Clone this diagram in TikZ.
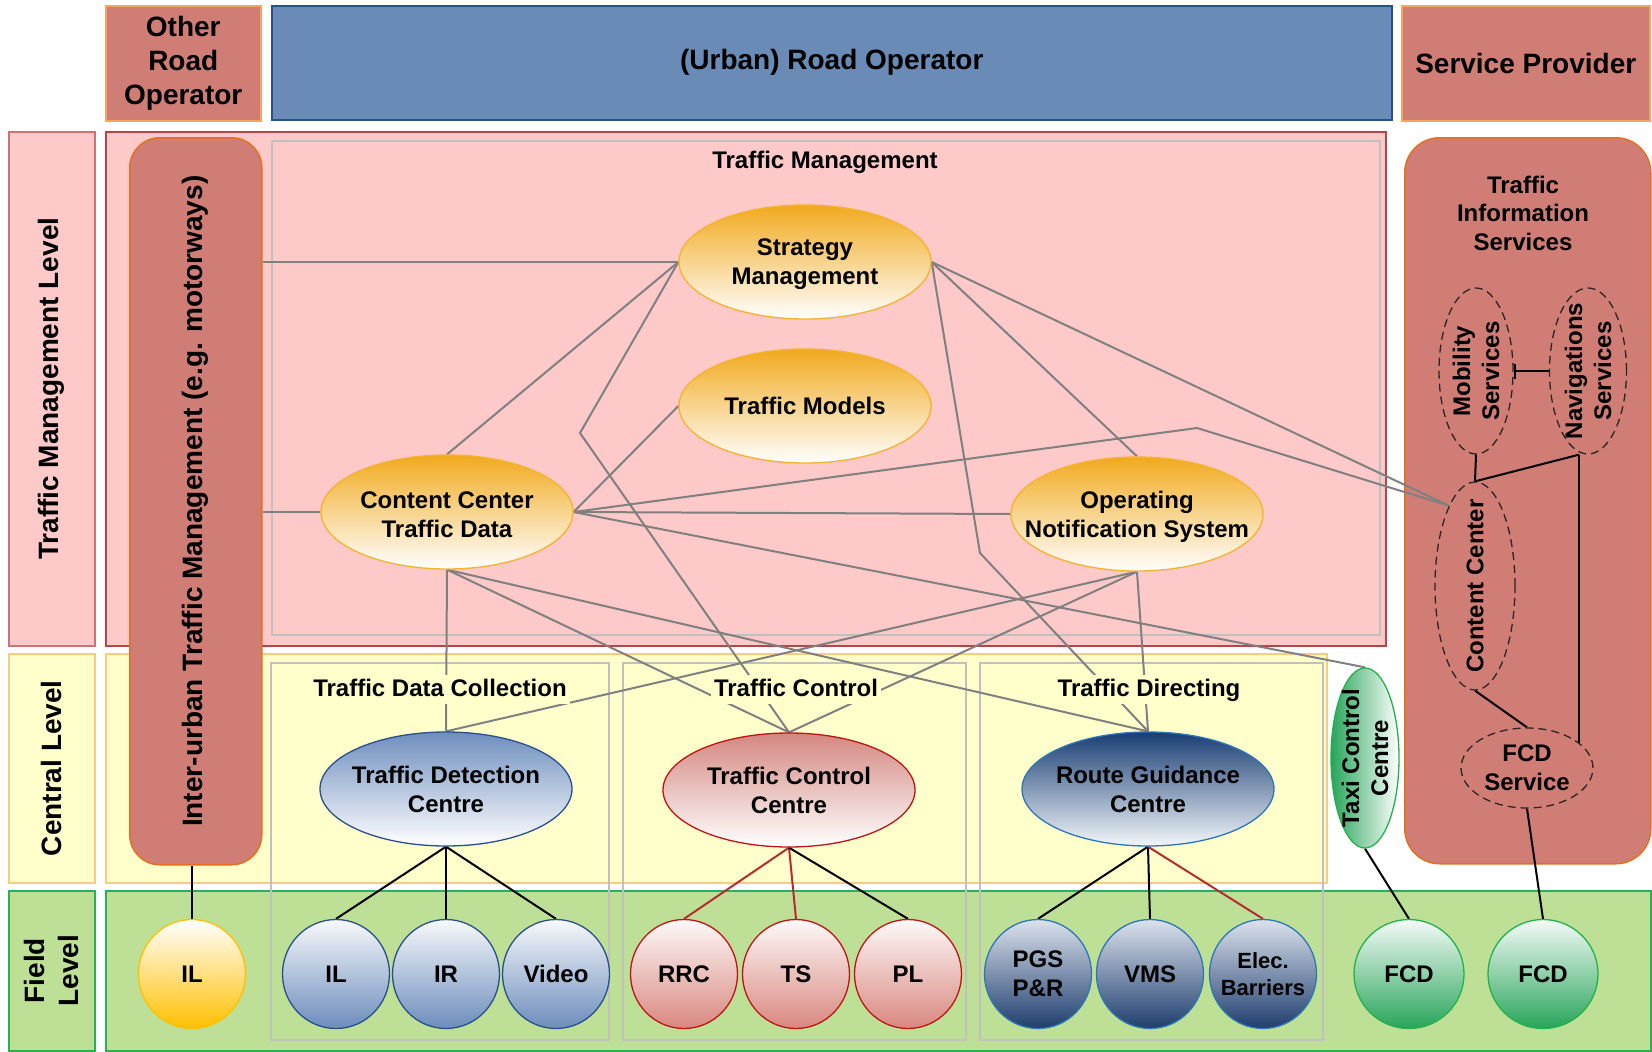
\documentclass[tikz,border=0pt]{standalone}
\usepackage{fontspec}
\setmainfont{Liberation Sans}
\usetikzlibrary{shapes.geometric,arrows.meta,calc}
\definecolor{salmon}{RGB}{208,126,117}
\definecolor{salmonB}{RGB}{228,112,30}
\definecolor{opB}{RGB}{245,165,95}
\definecolor{blueF}{RGB}{107,139,183}
\definecolor{blueB}{RGB}{40,80,140}
\definecolor{pinkF}{RGB}{253,201,201}
\definecolor{pinkB}{RGB}{180,70,70}
\definecolor{pinkB2}{RGB}{205,115,115}
\definecolor{yelF}{RGB}{255,255,204}
\definecolor{yelB}{RGB}{250,205,125}
\definecolor{grnF}{RGB}{190,224,150}
\definecolor{grnB}{RGB}{40,178,85}
\definecolor{colB}{RGB}{192,192,192}
\definecolor{lineG}{RGB}{128,128,128}
\definecolor{lineR}{RGB}{180,45,45}
\definecolor{orT}{RGB}{241,170,30}
\definecolor{orB}{RGB}{244,178,45}
\definecolor{tdcT}{RGB}{110,142,190}
\definecolor{tdcB}{RGB}{40,80,140}
\definecolor{tccT}{RGB}{212,135,128}
\definecolor{tccB}{RGB}{192,20,20}
\definecolor{rgcT}{RGB}{25,62,115}
\definecolor{rgcB}{RGB}{46,117,182}
\definecolor{ilB}{RGB}{255,192,0}
\definecolor{bcB}{RGB}{108,140,188}
\definecolor{rcB}{RGB}{217,135,127}
\definecolor{dcB}{RGB}{30,62,110}
\definecolor{dcT}{RGB}{220,226,236}
\definecolor{fcdG}{RGB}{40,165,90}
\definecolor{fcdB}{RGB}{34,177,76}
\definecolor{dashC}{RGB}{45,35,35}
\pgfdeclarelayer{bg}
\pgfdeclarelayer{lines}
\pgfsetlayers{bg,lines,main}
\tikzset{
 bigtxt/.style={font=\fontsize{28}{34}\selectfont\bfseries, align=center, inner sep=0pt},
 txt/.style={font=\fontsize{24}{29}\selectfont\bfseries, align=center, inner sep=0pt},
 otxt/.style={txt, yshift=-2.5pt},
 box/.style={rectangle, anchor=north west, inner sep=0pt, line width=1.5pt},
 ell/.style={ellipse, inner sep=0pt, line width=1.3pt},
 oell/.style={ell, minimum width=252, minimum height=114, draw=orB, top color=orT, bottom color=white},
 cent/.style={ell, minimum width=252, minimum height=114},
 fcirc/.style={ell, minimum width=107, minimum height=109},
 dell/.style={ell, draw=dashC, dash pattern=on 8pt off 5pt},
 gline/.style={draw=lineG, line width=2pt},
 bline/.style={draw=black, line width=2pt},
 rline/.style={draw=lineR, line width=2pt},
 clab/.style={txt, fill=yelF, inner sep=3pt, text height=18pt, text depth=5pt, anchor=base},
}
\begin{document}
\begin{tikzpicture}[x=1pt,y=-1pt]
\useasboundingbox (0,0) rectangle (1652,1052);
\begin{pgfonlayer}{bg}
\fill[white] (0,0) rectangle (1652,1052);
% level labels
\node[box,fill=pinkF,draw=pinkB2,minimum width=86,minimum height=514] (tml) at (8,131) {};
\node[box,fill=yelF,draw=yelB,minimum width=86,minimum height=229] (cl) at (8,653) {};
\node[box,fill=grnF,draw=grnB,minimum width=86,minimum height=160] (fl) at (8,890) {};
% operators
\node[box,fill=salmon,draw=opB,minimum width=155,minimum height=115] (oro) at (105,5) {};
\node[box,fill=blueF,draw=blueB,minimum width=1120,minimum height=114] (uro) at (271,5) {};
\node[box,fill=salmon,draw=opB,minimum width=248,minimum height=115] (sp) at (1401,5) {};
% level areas
\node[box,fill=pinkF,draw=pinkB,minimum width=1280,minimum height=514] (pinkbox) at (105,131) {};
\node[box,draw=colB,minimum width=1108,minimum height=494] (tmbox) at (271,140) {};
\node[box,fill=yelF,draw=yelB,minimum width=1221,minimum height=229] (yelbox) at (105,653) {};
\node[box,fill=grnF,draw=grnB,minimum width=1545,minimum height=160] (grnbox) at (105,890) {};
\node[box,draw=colB,minimum width=338,minimum height=377] (tdcbox) at (270,662) {};
\node[box,draw=colB,minimum width=343,minimum height=377] (tcbox) at (622,662) {};
\node[box,draw=colB,minimum width=343,minimum height=377] (tdbox) at (979,662) {};
\node[box,fill=salmon,draw=salmonB,rounded corners=30pt,minimum width=132,minimum height=727] (ibox) at (129,137) {};
\node[box,fill=salmon,draw=salmonB,rounded corners=35pt,minimum width=246,minimum height=726] (tis) at (1404,137) {};
% texts
\node[bigtxt,rotate=90] (tmlt) at (tml.center) {Traffic Management Level};
\node[bigtxt,rotate=90] (clt) at (cl.center) {Central Level};
\node[bigtxt,rotate=90] (flt) at (fl.center) {Field\\Level};
\node[bigtxt] (orot) at (oro.center) {Other\\Road\\Operator};
\node[bigtxt] (urot) at (uro.center) {(Urban) Road Operator};
\node[bigtxt] (spt) at (sp.center) {Service Provider};
\node[txt] (tmt) at (825,162) {Traffic Management};
\node[bigtxt,rotate=90] (iboxt) at (ibox.center) {Inter-urban Traffic Management (e.g. motorways)};
\node[txt,font=\fontsize{24}{28.5}\selectfont\bfseries] (tist) at (1523,213) {Traffic\\Information\\Services};
\end{pgfonlayer}

% management ellipses
\node[oell] (sm) at (805,262) {};
\node[otxt] (smt) at (sm) {Strategy\\Management};
\node[oell] (tmod) at (805,406) {};
\node[txt] (tmodt) at (tmod) {Traffic Models};
\node[oell] (cc) at (447,512) {};
\node[otxt] (cct) at (cc) {Content Center\\Traffic Data};
\node[oell] (ons) at (1137,514) {};
\node[otxt] (onst) at (ons) {Operating\\Notification System};

% central ellipses
\node[cent,draw=tdcB,top color=tdcT,bottom color=white] (tdc) at (446,789) {};
\node[txt] (tdct) at (tdc) {Traffic Detection\\Centre};
\node[cent,draw=tccB,top color=tccT,bottom color=white] (tcc) at (789,790) {};
\node[txt] (tcct) at (tcc) {Traffic Control\\Centre};
\node[cent,draw=rgcB,top color=rgcT,bottom color=white!94!rgcB] (rgc) at (1148,789) {};
\node[txt] (rgct) at (rgc) {Route Guidance\\Centre};

% column labels
\node[clab] (tdcl) at (440,696) {Traffic Data Collection};
\node[clab] (tcl) at (796,696) {Traffic Control};
\node[clab] (tdl) at (1149,696) {Traffic Directing};

% field circles
\node[fcirc,draw=ilB,top color=white,bottom color=ilB] (il0) at (192,974) {};
\node[txt] (il0t) at (il0) {IL};
\node[fcirc,draw=tdcB,top color=white!95!bcB,bottom color=bcB] (il) at (336,974) {};
\node[txt] (ilt) at (il) {IL};
\node[fcirc,draw=tdcB,top color=white!95!bcB,bottom color=bcB] (ir) at (446,974) {};
\node[txt] (irt) at (ir) {IR};
\node[fcirc,draw=tdcB,top color=white!95!bcB,bottom color=bcB] (vid) at (556,974) {};
\node[txt] (vidt) at (vid) {Video};
\node[fcirc,draw=tccB,top color=white!95!rcB,bottom color=rcB] (rrc) at (684,974) {};
\node[txt] (rrct) at (rrc) {RRC};
\node[fcirc,draw=tccB,top color=white!95!rcB,bottom color=rcB] (ts) at (796,974) {};
\node[txt] (tst) at (ts) {TS};
\node[fcirc,draw=tccB,top color=white!95!rcB,bottom color=rcB] (pl) at (908,974) {};
\node[txt] (plt) at (pl) {PL};
\node[fcirc,draw=rgcB,top color=dcT,bottom color=dcB] (pgs) at (1038,974) {};
\node[txt] (pgst) at (pgs) {PGS\\P\&R};
\node[fcirc,draw=rgcB,top color=dcT,bottom color=dcB] (vms) at (1150,974) {};
\node[txt] (vmst) at (vms) {VMS};
\node[fcirc,draw=rgcB,top color=dcT,bottom color=dcB] (eb) at (1263,974) {};
\node[txt,font=\fontsize{22}{27}\selectfont\bfseries] (ebt) at (eb) {Elec.\\Barriers};
\node[ell,minimum width=110,minimum height=109,draw=fcdB,top color=white!95!fcdG,bottom color=fcdG] (fcd1) at (1409,974) {};
\node[txt] (fcd1t) at (fcd1) {FCD};
\node[ell,minimum width=110,minimum height=109,draw=fcdB,top color=white!95!fcdG,bottom color=fcdG] (fcd2) at (1543,974) {};
\node[txt] (fcd2t) at (fcd2) {FCD};

% taxi
\node[ell,minimum width=68,minimum height=180,draw=fcdB,left color=fcdG,right color=white] (taxi) at (1365,758) {};
\node[txt,rotate=90] (taxit) at (taxi) {Taxi Control\\Centre};

% service provider internals
\node[dell,minimum width=74,minimum height=166] (mob) at (1476,371) {};
\node[txt,rotate=90] (mobt) at (mob) {Mobility\\Services};
\node[dell,minimum width=77,minimum height=166] (nav) at (1588,371) {};
\node[txt,rotate=90] (navt) at (nav) {Navigations\\Services};
\node[dell,minimum width=80,minimum height=208] (cce) at (1475,586) {};
\node[txt,rotate=90] (ccet) at (cce) {Content Center};
\node[dell,minimum width=132,minimum height=80] (fcds) at (1527,768) {};
\node[txt] (fcdst) at (fcds) {FCD\\Service};

\begin{pgfonlayer}{lines}
\coordinate (k1) at (580,433);
\coordinate (k2) at (1197,428);
\coordinate (k3) at (980,553);
\coordinate (navfoot) at (fcds.26 |- nav.south);
% gray connectors
\draw[gline] (sm.west -| ibox.east) -- (sm.west);
\draw[gline] (cc.west -| ibox.east) -- (cc.west);
\draw[gline] (sm.west) -- (cc.north);
\draw[gline] (sm.west) -- (k1) -- (tcc.north);
\draw[gline] (cc.east) -- (tmod.west);
\draw[gline] (cc.east) -- (ons.west);
\draw[gline] (cc.east) -- (k2) -- (cce.108);
\draw[gline] (sm.east) -- (cce.108);
\draw[gline] (sm.east) -- (ons.north);
\draw[gline] (sm.east) -- (k3) -- (rgc.north);
\draw[gline] (cc.south) -- (tdc.north);
\draw[gline] (cc.south) -- (tcc.north);
\draw[gline] (cc.south) -- (rgc.north);
\draw[gline] (cc.east) -- (taxi.north);
\draw[gline] (ons.south) -- (tdc.north);
\draw[gline] (ons.south) -- (tcc.north);
\draw[gline] (ons.south) -- (rgc.north);
% central to field
\draw[bline] (il0.north |- ibox.south) -- (il0.north);
\draw[bline] (tdc.south) -- (il.north);
\draw[bline] (tdc.south) -- (ir.north);
\draw[bline] (tdc.south) -- (vid.north);
\draw[rline] (tcc.south) -- (rrc.north);
\draw[rline] (tcc.south) -- (ts.north);
\draw[bline] (tcc.south) -- (pl.north);
\draw[bline] (rgc.south) -- (pgs.north);
\draw[bline] (rgc.south) -- (vms.north);
\draw[rline] (rgc.south) -- (eb.north);
% service provider
\draw[bline] (mob.south) -- (cce.north);
\draw[bline] (navfoot) -- (cce.north);
\draw[bline] (navfoot) -- (fcds.26);
\draw[bline] (cce.south) -- (fcds.north);
\draw[bline] (fcds.south) -- (fcd2.north);
\draw[bline] (taxi.south) -- (fcd1.north);
\draw[bline,{Bar[width=15pt]}-] (mob.east) -- (nav.west);
\end{pgfonlayer}
\end{tikzpicture}
\end{document}
